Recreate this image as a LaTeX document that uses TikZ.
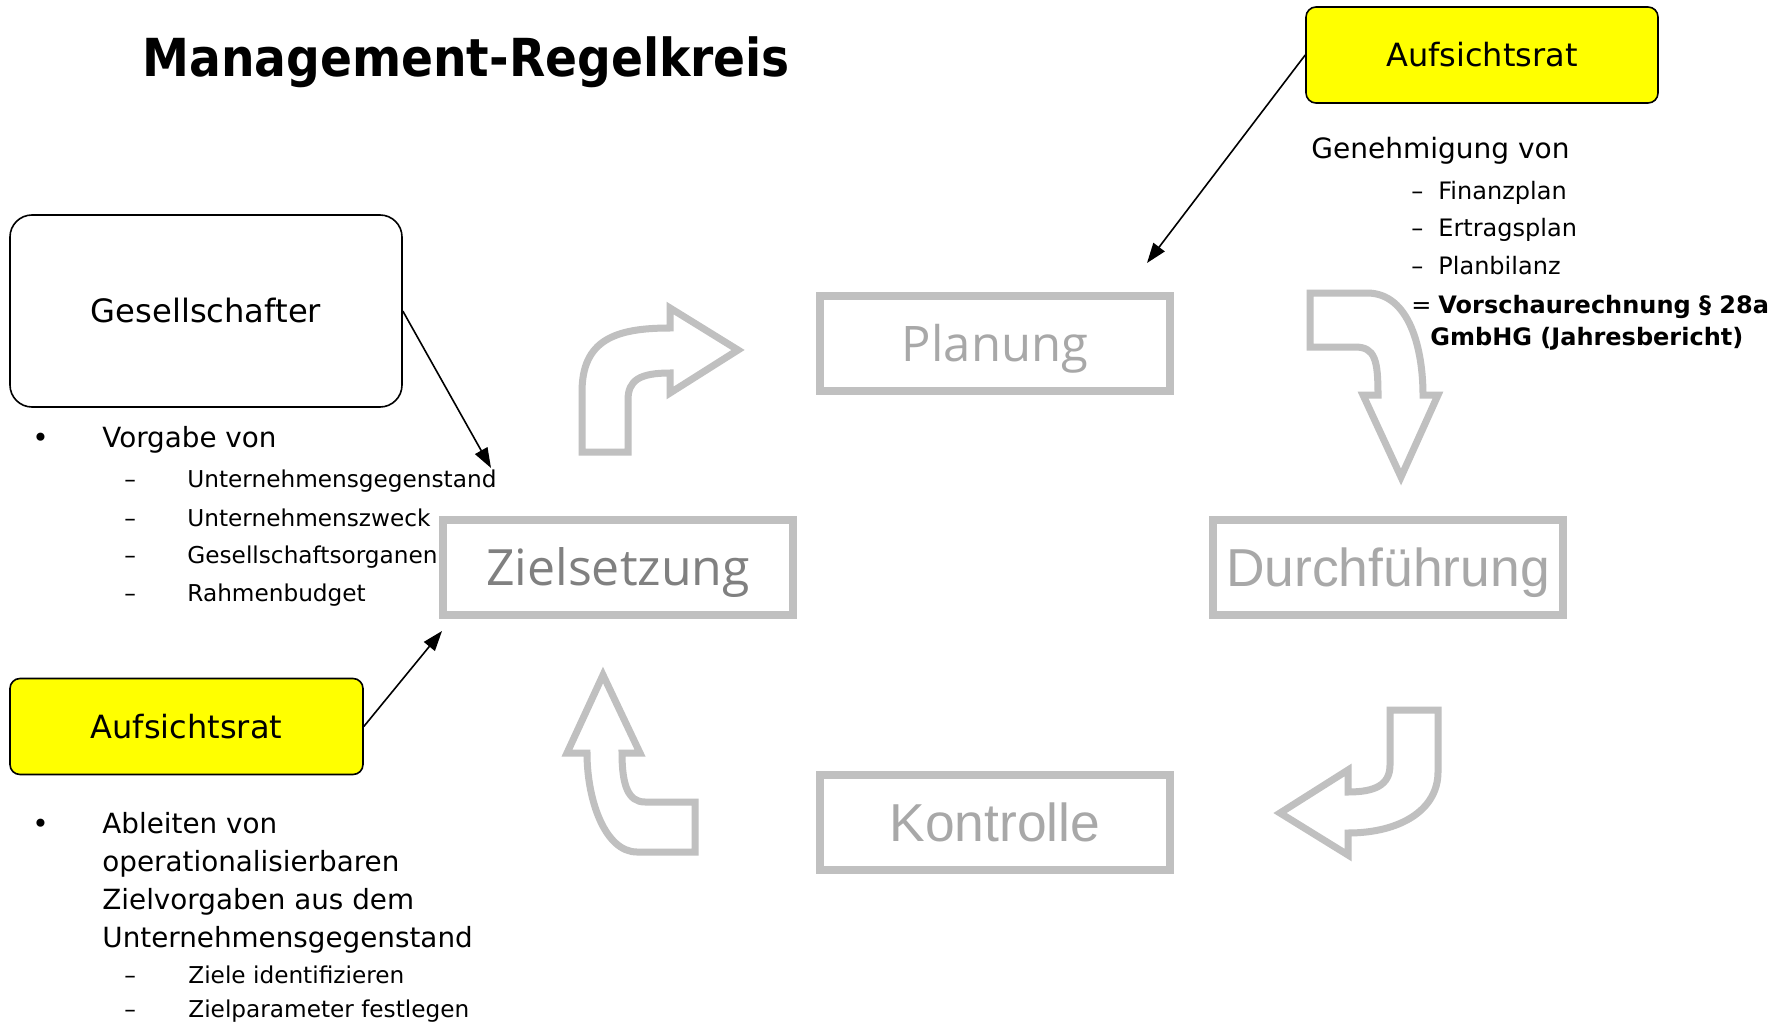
\documentclass[tikz,border=0pt]{standalone}
\usepackage{fontspec}
\setmainfont{DejaVu Sans}
\newfontfamily\condf{DejaVu Sans Condensed}
\newfontfamily\segoe{Open Sans}
\newfontfamily\arialf{Liberation Sans}
\usetikzlibrary{arrows.meta}
\definecolor{boxgray}{RGB}{192,192,192}
\definecolor{lblgray}{RGB}{168,168,168}
\definecolor{lbldark}{RGB}{128,128,128}
\definecolor{yel}{RGB}{255,255,0}
\begin{document}
\begin{tikzpicture}[x=0.5pt,y=-0.5pt,
  txt/.style={inner sep=0pt, anchor=base west},
  mainfs/.style={font=\fontsize{13.9}{16}\selectfont},
  subfs/.style={font=\fontsize{11.6}{14}\selectfont},
  rfs/.style={font=\fontsize{12.0}{15}\selectfont},
  rbfs/.style={font=\fontsize{12.0}{15}\selectfont\bfseries},
  stepbox/.style={draw=boxgray, line width=4pt, minimum width=175pt, minimum height=47.5pt, inner sep=0pt, text depth=0pt},
  actor/.style={draw=black, line width=0.8pt, inner sep=0pt, text depth=0pt},
  garrow/.style={draw=boxgray, line width=3.5pt, line join=miter, miter limit=10},
  conn/.style={draw=black, line width=0.8pt, -{Triangle[length=10pt,width=7pt]}}]
\useasboundingbox (0,0) rectangle (1787,1032);
\fill[white] (0,0) rectangle (1787,1032);

% title
\node[txt, font=\condf\fontsize{26.2}{30}\selectfont\bfseries] (title) at (142,77) {Management-Regelkreis};

% actor boxes
\node[actor, fill=white, rounded corners=11pt, minimum width=196pt, minimum height=96pt, font=\fontsize{16.1}{20}\selectfont, text height=11.7pt] (gesell) at (206,311) {Gesellschafter};
\node[actor, fill=yel, rounded corners=5pt, minimum width=176pt, minimum height=48pt, font=\fontsize{16}{20}\selectfont, text height=11.7pt] (aroben) at (1482,55) {Aufsichtsrat};
\node[actor, fill=yel, rounded corners=5pt, minimum width=176.5pt, minimum height=48pt, font=\fontsize{16}{20}\selectfont, text height=11.7pt] (arunten) at (186.5,726.5) {Aufsichtsrat};

% cycle boxes
\node[stepbox, font=\segoe\fontsize{24.5}{28}\selectfont, text=lblgray, text height=17.5pt] (planung) at (995,343.5) {Planung};
\node[stepbox, font=\segoe\fontsize{25}{28}\selectfont, text=lbldark, text height=18pt] (ziel) at (618,567) {Zielsetzung};
\node[stepbox, font=\arialf\fontsize{26.7}{30}\selectfont, text=lblgray, text height=19.1pt] (durch) at (1388,567) {Durchführung};
\node[stepbox, font=\arialf\fontsize{26.7}{30}\selectfont, text=lblgray, text height=19.1pt] (kontrolle) at (995,822.5) {Kontrolle};

% gray curved arrows
\draw[garrow] (582,452) -- (582,392) .. controls (582,340) and (615,328) .. (670,328) -- (670,308) -- (738,350) -- (670,393) -- (670,373) .. controls (640,373) and (628,380) .. (628,400) -- (628,452) -- cycle;
\draw[garrow] (1310,293) -- (1367,293) .. controls (1410,293) and (1423,350) .. (1423,395) -- (1438,395) -- (1401,477) -- (1363,395) -- (1378,395) .. controls (1378,360) and (1375,347) .. (1355,347) -- (1310,347) -- cycle;
\draw[garrow] (1390,710) -- (1438,710) -- (1438,772) .. controls (1438,810) and (1400,833) .. (1348,833) -- (1348,855) -- (1280,813) -- (1348,770) -- (1348,792) .. controls (1375,792) and (1390,785) .. (1390,765) -- cycle;
\draw[garrow] (603,675) -- (640,753) -- (622,753) .. controls (622,785) and (628,802) .. (645,802) -- (695,802) -- (695,852) -- (637,852) .. controls (605,852) and (587,800) .. (587,753) -- (567,753) -- cycle;

% connectors
\coordinate (e1) at (491,468);
\coordinate (e2) at (1147,263);
\coordinate (e3) at (442,631);
\draw[conn] (gesell.east) -- (e1);
\draw[conn] (aroben.west) -- (e2);
\draw[conn] (arunten.east) -- (e3);

% left upper list
\node[txt, mainfs] (b1) at (32,447) {•};
\node[txt, mainfs] (t1) at (102,447) {Vorgabe von};
\node[txt, subfs] (d1) at (124,487) {–};
\node[txt, subfs] (s1) at (187,487) {Unternehmensgegenstand};
\node[txt, subfs] (d2) at (124,526) {–};
\node[txt, subfs] (s2) at (187,526) {Unternehmenszweck};
\node[txt, subfs] (d3) at (124,563) {–};
\node[txt, subfs] (s3) at (187,563) {Gesellschaftsorganen};
\node[txt, subfs] (d4) at (124,601) {–};
\node[txt, subfs] (s4) at (187,601) {Rahmenbudget};

% left lower list
\node[txt, mainfs] (b2) at (32,833) {•};
\node[txt, mainfs] (t2a) at (102,833) {Ableiten von};
\node[txt, mainfs] (t2b) at (102,871) {operationalisierbaren};
\node[txt, mainfs] (t2c) at (102,909) {Zielvorgaben aus dem};
\node[txt, mainfs] (t2d) at (102,947) {Unternehmensgegenstand};
\node[txt, subfs] (d5) at (124,983) {–};
\node[txt, subfs] (s5) at (188,983) {Ziele identifizieren};
\node[txt, subfs] (d6) at (124,1017) {–};
\node[txt, subfs] (s6) at (188,1017) {Zielparameter festlegen};

% right list
\node[txt, font=\fontsize{14.0}{17}\selectfont] (g0) at (1311,159) {Genehmigung von};
\node[txt, rfs] (gd1) at (1411,200) {–};
\node[txt, rfs] (g1) at (1438,200) {Finanzplan};
\node[txt, rfs] (gd2) at (1411,237) {–};
\node[txt, rfs] (g2) at (1438,237) {Ertragsplan};
\node[txt, rfs] (gd3) at (1411,275) {–};
\node[txt, rfs] (g3) at (1438,275) {Planbilanz};
\node[txt, rfs] (gd4) at (1411,313) {=};
\node[txt, rbfs] (g4) at (1438,313) {Vorschaurechnung § 28a};
\node[txt, rbfs] (g5) at (1430,345) {GmbHG (Jahresbericht)};
\end{tikzpicture}
\end{document}
